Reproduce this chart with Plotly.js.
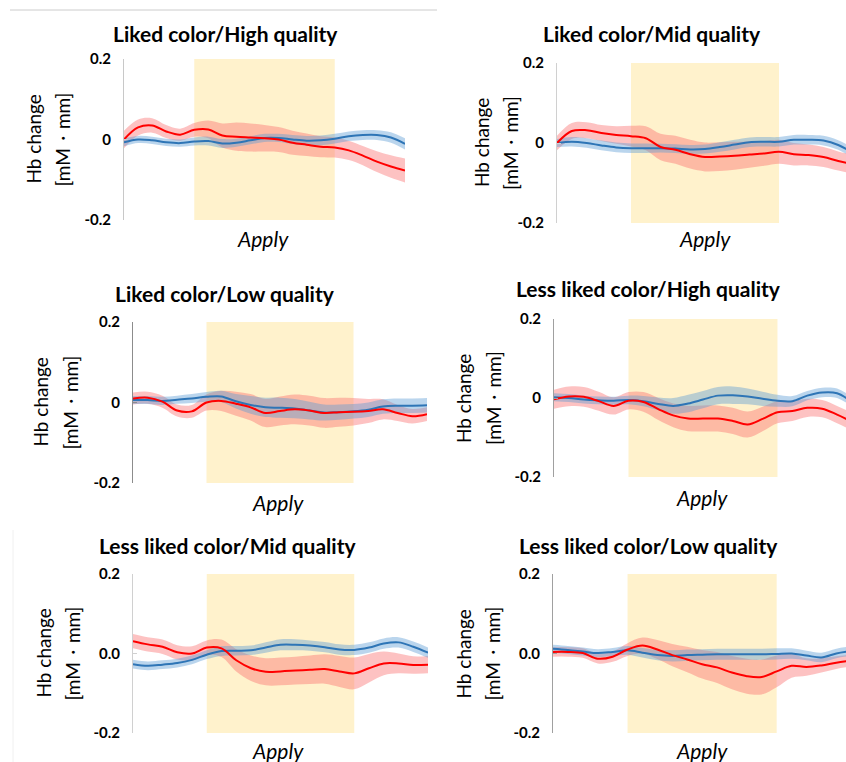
<!DOCTYPE html>
<html><head><meta charset="utf-8">
<script src="https://cdn.plot.ly/plotly-3.0.1.min.js"></script>
<style>html,body{margin:0;padding:0;background:#fff}#chart{width:846px;height:762px}</style>
</head><body><div id="chart"></div>
<script>
// time axis (s), step 2
const time = [0,2,4,6,8,10,12,14,16,18,20,22,24,26,28,30,32,34,36,38,40];
const applyStart = 10, applyEnd = 30;

const titles = [
  "Liked color/High quality", "Liked color/Mid quality",
  "Liked color/Low quality", "Less liked color/High quality",
  "Less liked color/Mid quality", "Less liked color/Low quality"
];
const tickVals = [-0.2, 0, 0.2];
const tickTextA = ["-0.2", "0", "0.2"];
const tickTextB = ["-0.2", "0.0", "0.2"];

// Panel 1
const red1  = [0.0,0.03,0.035,0.02,0.012,0.024,0.025,0.01,0.007,0.005,0.003,0.0,-0.008,-0.013,-0.018,-0.02,-0.027,-0.04,-0.055,-0.067,-0.077];
const redSd1 = [0.022,0.02,0.018,0.016,0.015,0.017,0.022,0.03,0.035,0.035,0.033,0.031,0.03,0.028,0.026,0.025,0.024,0.024,0.026,0.028,0.03];
const blue1 = [-0.007,0.0,-0.002,-0.007,-0.009,-0.005,-0.004,-0.01,-0.008,-0.002,0.004,0.004,0.0,-0.003,-0.002,0.002,0.008,0.011,0.011,0.005,-0.011];
const blueSd1 = [0.01,0.009,0.009,0.009,0.009,0.01,0.011,0.011,0.01,0.01,0.01,0.01,0.011,0.012,0.012,0.012,0.012,0.012,0.012,0.013,0.014];
// Panel 2
const red2  = [0.0,0.03,0.032,0.025,0.02,0.017,0.012,-0.01,-0.017,-0.028,-0.035,-0.034,-0.032,-0.029,-0.026,-0.022,-0.028,-0.03,-0.035,-0.045,-0.053];
const redSd2 = [0.018,0.02,0.02,0.02,0.022,0.026,0.03,0.033,0.035,0.036,0.036,0.036,0.035,0.033,0.031,0.03,0.028,0.026,0.025,0.024,0.023];
const blue2 = [0.0,0.003,0.0,-0.006,-0.011,-0.013,-0.013,-0.013,-0.014,-0.016,-0.015,-0.01,-0.004,0.002,0.003,0.003,0.008,0.008,0.006,-0.005,-0.025];
const blueSd2 = [0.01,0.012,0.012,0.012,0.012,0.012,0.012,0.011,0.011,0.011,0.011,0.012,0.012,0.012,0.012,0.012,0.012,0.012,0.012,0.012,0.013];
// Panel 3
const red3  = [0.01,0.012,0.002,-0.02,-0.022,0.0,0.004,-0.003,-0.012,-0.026,-0.021,-0.017,-0.02,-0.026,-0.024,-0.023,-0.021,-0.017,-0.026,-0.034,-0.029];
const redSd3 = [0.015,0.015,0.015,0.015,0.016,0.02,0.025,0.03,0.033,0.035,0.036,0.037,0.037,0.037,0.036,0.034,0.03,0.025,0.02,0.018,0.017];
const blue3 = [0.006,0.006,0.004,0.007,0.01,0.014,0.015,0.003,-0.006,-0.012,-0.013,-0.015,-0.02,-0.025,-0.024,-0.022,-0.018,-0.01,-0.008,-0.008,-0.007];
const blueSd3 = [0.01,0.01,0.01,0.01,0.011,0.012,0.014,0.018,0.022,0.024,0.025,0.024,0.022,0.02,0.019,0.018,0.018,0.018,0.018,0.018,0.018];
// Panel 4
const red4  = [-0.003,0.004,0.003,-0.008,-0.02,-0.007,-0.01,-0.028,-0.044,-0.052,-0.052,-0.052,-0.058,-0.067,-0.053,-0.036,-0.033,-0.025,-0.027,-0.042,-0.06];
const redSd4 = [0.024,0.025,0.025,0.024,0.022,0.022,0.025,0.028,0.03,0.032,0.033,0.033,0.033,0.033,0.031,0.028,0.025,0.023,0.022,0.022,0.022];
const blue4 = [0.002,0.0,-0.004,-0.006,-0.007,-0.005,-0.008,-0.015,-0.02,-0.014,-0.004,0.006,0.007,0.004,-0.002,-0.007,-0.008,0.006,0.014,0.012,-0.01];
const blueSd4 = [0.01,0.01,0.01,0.01,0.01,0.011,0.013,0.016,0.02,0.022,0.022,0.022,0.022,0.02,0.018,0.015,0.013,0.012,0.012,0.012,0.012];
// Panel 5
const red5  = [0.031,0.023,0.017,0.003,0.0,0.015,0.013,-0.017,-0.037,-0.046,-0.045,-0.043,-0.041,-0.039,-0.045,-0.05,-0.037,-0.025,-0.025,-0.029,-0.028];
const redSd5 = [0.018,0.018,0.018,0.018,0.018,0.018,0.022,0.028,0.032,0.034,0.035,0.035,0.036,0.037,0.039,0.04,0.036,0.03,0.025,0.022,0.022];
const blue5 = [-0.027,-0.031,-0.028,-0.024,-0.016,-0.003,0.006,0.007,0.008,0.015,0.022,0.022,0.02,0.016,0.01,0.009,0.015,0.025,0.028,0.017,0.002];
const blueSd5 = [0.011,0.011,0.011,0.011,0.011,0.011,0.012,0.012,0.012,0.013,0.014,0.014,0.013,0.013,0.013,0.013,0.013,0.013,0.013,0.013,0.013];
// Panel 6
const red6  = [0.004,0.004,0.001,-0.013,-0.008,0.01,0.02,0.01,-0.004,-0.015,-0.027,-0.035,-0.048,-0.057,-0.059,-0.045,-0.031,-0.034,-0.03,-0.023,-0.018];
const redSd6 = [0.012,0.012,0.012,0.012,0.013,0.016,0.02,0.024,0.028,0.032,0.036,0.039,0.042,0.044,0.044,0.04,0.03,0.022,0.018,0.016,0.015];
const blue6 = [0.012,0.009,0.005,0.001,0.004,0.008,0.002,-0.004,-0.006,-0.004,-0.003,-0.002,-0.002,-0.002,-0.002,-0.001,0.0,-0.005,-0.01,0.0,0.006];
const blueSd6 = [0.01,0.01,0.01,0.01,0.01,0.011,0.012,0.013,0.014,0.014,0.014,0.014,0.014,0.014,0.014,0.014,0.013,0.012,0.012,0.012,0.012];

const reds = [red1,red2,red3,red4,red5,red6];
const redSds = [redSd1,redSd2,redSd3,redSd4,redSd5,redSd6];
const blues = [blue1,blue2,blue3,blue4,blue5,blue6];
const blueSds = [blueSd1,blueSd2,blueSd3,blueSd4,blueSd5,blueSd6];

const W = 846, H = 762;
// pixel boxes: [x0, x1, yTop, yBottom, xRangeMax, axisColor]
const boxes = [
  [124, 405, 59, 220, 40, '#c8c8c8'],
  [557, 846, 63, 223, 39.05, '#d0d0d0'],
  [133, 427, 322, 483, 40, '#8c8c8c'],
  [554, 846, 319, 477, 39.2, '#a0a0a0'],
  [133, 428, 574, 733, 40, '#d0d0d0'],
  [553, 846, 574, 733, 39.3, '#a0a0a0']
];
// label positions (px): title center x,y ; ylabel1 x ; ylabel2 x ; apply x,y
const labels = [
  [225, 34, 33, 62, 263, 238],
  [652, 33, 482, 511, 705, 239],
  [225, 293, 40, 70, 278, 502],
  [648, 288, 463, 493, 702, 497],
  [227, 545, 43, 72, 278, 750],
  [648, 545, 463, 492, 702, 750]
];

const traces = [];
const layout = {
  width: W, height: H, margin: {l:0,r:0,t:0,b:0},
  paper_bgcolor: '#fff', plot_bgcolor: 'rgba(0,0,0,0)',
  showlegend: false, font: {family: 'Lato, "Open Sans", sans-serif', color: '#000'},
  shapes: [], annotations: []
};
const fx = px => px / W, fy = py => 1 - py / H;

for (let i = 0; i < 6; i++) {
  const n = i + 1, xa = 'x' + (n === 1 ? '' : n), ya = 'y' + (n === 1 ? '' : n);
  const b = boxes[i];
  layout['xaxis' + (n === 1 ? '' : n)] = {domain: [fx(b[0]), fx(b[1])], range: [0, b[4]], visible: false, fixedrange: true};
  layout['yaxis' + (n === 1 ? '' : n)] = {
    domain: [fy(b[3]), fy(b[2])], range: [-0.2, 0.2], anchor: xa,
    showgrid: false, zeroline: false, showline: true, linecolor: b[5], linewidth: 1,
    ticks: 'inside', ticklen: 4, tickcolor: b[5],
    tickvals: tickVals, ticktext: (i >= 4 ? tickTextB : tickTextA),
    tickfont: {size: 15, family: 'Lato, sans-serif', weight: 'bold', color: '#000'},
    ticklabelstandoff: 9
  };
  layout.shapes.push({type: 'rect', xref: xa, yref: ya, x0: applyStart, x1: applyEnd, y0: -0.2, y1: 0.2,
    fillcolor: '#FFF2CC', line: {width: 0}, layer: 'below'});

  const r = reds[i], rs = redSds[i], bl = blues[i], bs = blueSds[i];
  const band = (m, s, sign) => m.map((v, k) => v + sign * s[k]);
  traces.push({x: time, y: band(r, rs, -1), xaxis: xa, yaxis: ya, mode: 'lines', line: {width: 0, shape: 'spline'}, hoverinfo: 'skip'});
  traces.push({x: time, y: band(r, rs, 1), xaxis: xa, yaxis: ya, mode: 'lines', line: {width: 0, shape: 'spline'}, fill: 'tonexty', fillcolor: 'rgba(250,110,110,0.42)', hoverinfo: 'skip'});
  traces.push({x: time, y: band(bl, bs, -1), xaxis: xa, yaxis: ya, mode: 'lines', line: {width: 0, shape: 'spline'}, hoverinfo: 'skip'});
  traces.push({x: time, y: band(bl, bs, 1), xaxis: xa, yaxis: ya, mode: 'lines', line: {width: 0, shape: 'spline'}, fill: 'tonexty', fillcolor: 'rgba(91,155,213,0.42)', hoverinfo: 'skip'});
  traces.push({x: time, y: bl, xaxis: xa, yaxis: ya, mode: 'lines', line: {color: '#2E75B6', width: 2, shape: 'spline'}});
  traces.push({x: time, y: r, xaxis: xa, yaxis: ya, mode: 'lines', line: {color: '#FF0000', width: 2, shape: 'spline'}});

  const L = labels[i];
  layout.annotations.push({text: '<b>' + titles[i] + '</b>', xref: 'paper', yref: 'paper', x: fx(L[0]), y: fy(L[1]),
    showarrow: false, font: {size: 21, family: 'Lato, sans-serif', color: '#000'}, xanchor: 'center', yanchor: 'middle'});
  layout.annotations.push({text: 'Hb change', xref: 'paper', yref: 'paper', x: fx(L[2]), y: fy((b[2] + b[3]) / 2),
    showarrow: false, textangle: -90, font: {size: 19, family: 'Lato, sans-serif', color: '#000'}, xanchor: 'center', yanchor: 'middle'});
  layout.annotations.push({text: '[mM・mm]', xref: 'paper', yref: 'paper', x: fx(L[3]), y: fy((b[2] + b[3]) / 2),
    showarrow: false, textangle: -90, font: {size: 19, family: 'Lato, sans-serif', color: '#000'}, xanchor: 'center', yanchor: 'middle'});
  layout.annotations.push({text: '<i>Apply</i>', xref: 'paper', yref: 'paper', x: fx(L[4]), y: fy(L[5]),
    showarrow: false, font: {size: 21, family: 'Lato, sans-serif', color: '#000'}, xanchor: 'center', yanchor: 'middle'});
}
// decorative frame lines
layout.shapes.push({type: 'line', xref: 'paper', yref: 'paper', x0: fx(10), x1: fx(437), y0: fy(10), y1: fy(10), line: {color: '#cccccc', width: 1}});
layout.shapes.push({type: 'line', xref: 'paper', yref: 'paper', x0: fx(13), x1: fx(13), y0: fy(530), y1: fy(762), line: {color: '#f0f0f0', width: 1}});

Plotly.newPlot('chart', traces, layout, {displayModeBar: false, staticPlot: true});
</script></body></html>
